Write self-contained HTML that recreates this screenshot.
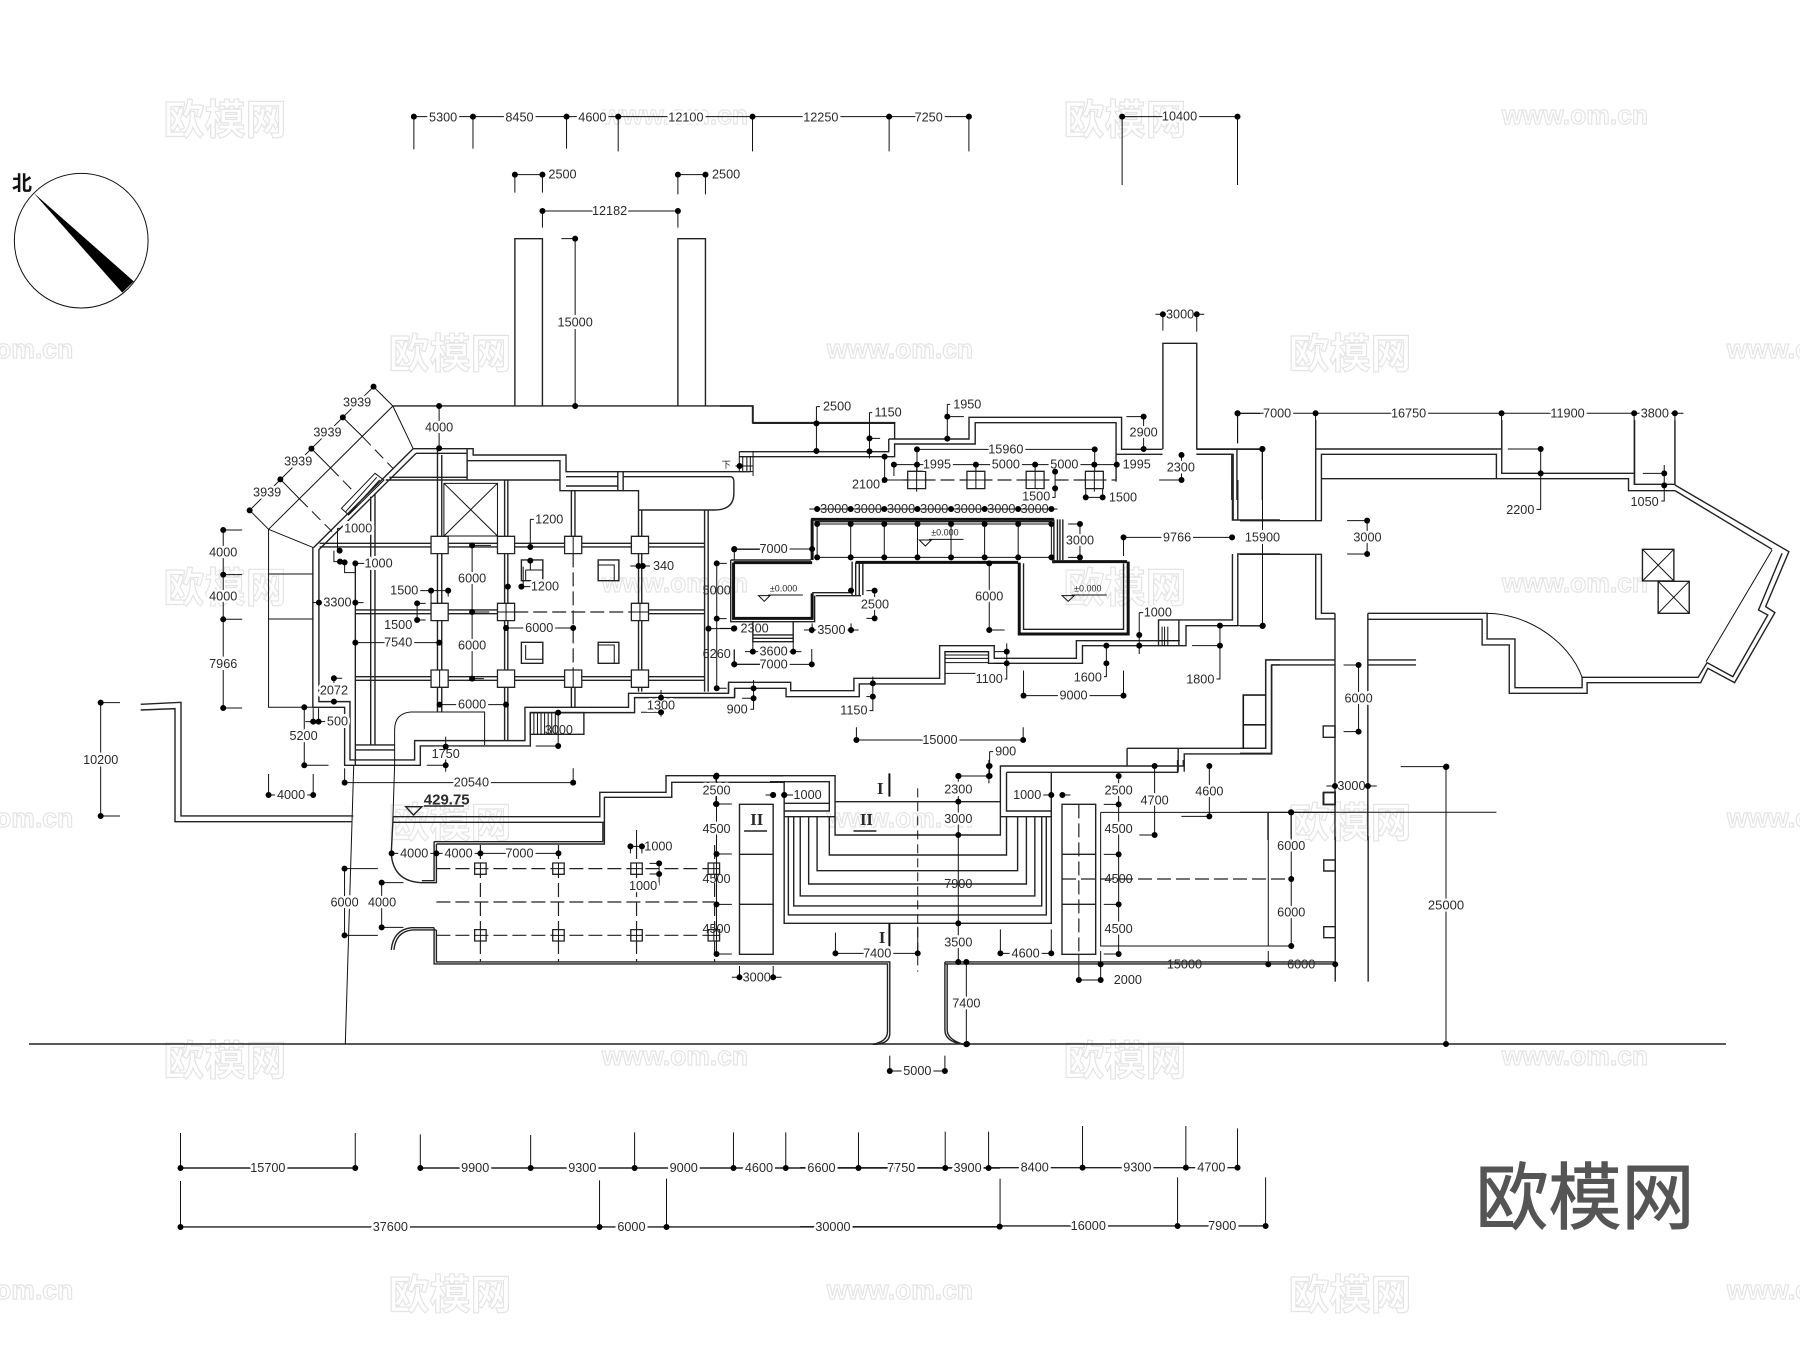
<!DOCTYPE html>
<html><head><meta charset="utf-8"><style>
html,body{margin:0;padding:0;background:#fff}
svg{display:block;font-family:"Liberation Sans","Noto Sans CJK SC",sans-serif}
path,rect,ellipse,polygon{vector-effect:non-scaling-stroke}
.l{fill:none;stroke:#111;stroke-width:1}
.w{fill:none;stroke:#222;stroke-width:1.4}
.th{fill:none;stroke:#111;stroke-width:3}
.da{fill:none;stroke:#222;stroke-width:1.2;stroke-dasharray:14 5}
.d{fill:none;stroke:#000;stroke-width:6;stroke-linecap:round}
.col{fill:#fff;stroke:#222;stroke-width:1.3}
.lab text{font-size:38px;fill:#2a2a2a;text-anchor:middle;dominant-baseline:central;transform-box:fill-box;transform-origin:center;paint-order:stroke;stroke:#fff;stroke-width:15px;stroke-linejoin:round}
.lab text.nh{stroke:none}
.lab text.sm{font-size:27px;stroke:none}
.lab text.rm{font-family:"Liberation Serif",serif;font-weight:bold;font-size:50px;stroke:none}
.a text{transform:scaleX(.581)}
.b text{transform:scaleX(.933)}
.c text{transform:scaleX(.871)}
.e text{transform:scaleX(.5226)}
.f text{transform:scaleX(.968)}
.wm text{fill:#fff;stroke:#e4e4e4;stroke-width:1.2;text-anchor:middle;dominant-baseline:central}
.wm .k{font-size:41px;font-family:"Noto Sans CJK SC",sans-serif;font-weight:bold}
.wm .u{font-size:26.5px;font-weight:bold}
</style></head><body>
<svg xmlns="http://www.w3.org/2000/svg" width="1800" height="1347" viewBox="0 0 1800 1347">
<rect width="1800" height="1347" fill="#fff"/>
<g class="wm">
<text class="k" x="225" y="116">欧模网</text><text class="k" x="1125" y="116">欧模网</text>
<text class="k" x="450" y="350">欧模网</text><text class="k" x="1350" y="350">欧模网</text>
<text class="k" x="225" y="584">欧模网</text><text class="k" x="1125" y="584">欧模网</text>
<text class="k" x="450" y="819">欧模网</text><text class="k" x="1350" y="819">欧模网</text>
<text class="k" x="225" y="1057">欧模网</text><text class="k" x="1125" y="1057">欧模网</text>
<text class="k" x="450" y="1291">欧模网</text><text class="k" x="1350" y="1291">欧模网</text>
<text class="u" x="675" y="115">www.om.cn</text><text class="u" x="1575" y="115">www.om.cn</text>
<text class="u" x="0" y="349">www.om.cn</text><text class="u" x="900" y="349">www.om.cn</text><text class="u" x="1800" y="349">www.om.cn</text>
<text class="u" x="675" y="583">www.om.cn</text><text class="u" x="1575" y="583">www.om.cn</text>
<text class="u" x="0" y="818">www.om.cn</text><text class="u" x="900" y="818">www.om.cn</text><text class="u" x="1800" y="818">www.om.cn</text>
<text class="u" x="675" y="1056">www.om.cn</text><text class="u" x="1575" y="1056">www.om.cn</text>
<text class="u" x="0" y="1290">www.om.cn</text><text class="u" x="900" y="1290">www.om.cn</text><text class="u" x="1800" y="1290">www.om.cn</text>
</g>

<!-- geometry layers -->
<g>
<path class="w" d="M29 1044H1726"/>
<path class="l" d="M1446 767V1044"/>
</g>

<g transform="matrix(.574 0 0 .3333 0 80)">
<path class="l" d="M721 110H1568M721 110V208M824 110V206M987 110V206M1077 110V214M1311 110V214M1549 110V214
M897 284H945M897 284V338M945 284V338M1181 284H1229M1181 284V343M1229 284V343M945 393H1181M945 393V443M1181 393V443
M1002 476V978M978 476H1002M765 978V1105"/>
<path class="w" d="M897 978V476H945V978M1181 978V476H1229V978M685 978H1311V1028H1560"/>
<ellipse class="l" cx="141.5" cy="482" rx="116.5" ry="202"/>
<polygon points="58,338 233,604 213,638" fill="#000"/>
</g>

<g transform="matrix(.574 0 0 .3333 900 80)">
<path class="l" d="M0 110H120M120 110V214M387 110H588M387 110V315M588 110V315M445 703H530M458 703V752M517 703V755
M587 1000H1365M588 1000V1090M724 1000V1107M1048 1000V1107M1279 1000V1215M1350 1000V1215M631 1107V1260"/>
<path class="w" d="M458 1107V790H517V1107M517 1107H631M517 1123H578V1260M587 1107V1260"/>
</g>

<g transform="matrix(.3444 0 0 .3333 720 390)">
<path class="w" d="M0 48H96V100H507V145M490 147H723V82H1166V178H1285M56 185H490V147M56 200H507V162H741V98H1150V275M1150 193H1285M1383 178H1568M1383 193H1490V390"/>
<path class="l" d="M56 185V245H96M96 185V258M66 200V245M78 200V245M88 200V245M45 228H96
M280 50H290M280 50V185M434 68H442M434 68V205M434 145H465M660 43H668M660 43V147M660 80H708M1180 80H1230V178M572 178H1088M572 178V245M1088 178V245
M505 224H1150M505 224V258M743 224V245M915 224V245M478 200V270M478 270H530M465 282L478 270M973 240V322H960M1062 322H1111M1062 295V322M1111 295V322
M1340 195V218M1340 250V270M1275 270H1340M1503 70V160M1503 70H1568"/>
<path class="da" d="M530 270H1150"/>
<rect class="col" x="545" y="244" width="52" height="52"/><rect class="col" x="717" y="244" width="52" height="52"/><rect class="col" x="889" y="244" width="52" height="52"/><rect class="col" x="1061" y="244" width="52" height="52"/>
<path class="l" d="M545 270H597M571 230V305M717 270H769M743 245V296M889 270H941M915 245V296M1061 270H1113M1087 245V305"/>
</g>

<g transform="matrix(.3571 0 0 .3333 200 400)">
<path class="l" d="M486 -40L139 331M486 -40L540 18M540 18L192 388M540 18L597 146M192 388L318 443M400 52L455 110M312 146L365 203M225 238L278 296M139 331L192 388M192 388V922H316M192 522H316M192 657H316
M490 220L396 325L416 345L515 240ZM495 232L408 335M503 240L416 343"/>
<path class="l" d="M455 110L540 205M365 203L435 280M278 296L370 395" stroke-dasharray="12 6"/>
<path class="w" d="M597 146L318 443M605 160L332 450
M597 146H765V165H1025V215H1540M605 160H748V182H1008V272H1228V330
M1025 230H1170M1025 258H1170M1170 215V272M1185 215V272M1185 230H1485Q1495 230 1495 245V280Q1495 330 1440 330H1230
M530 232H748M520 240H1008M748 146V238
M316 443V922H405V1096H617V1038H925V938H1217V893H1497V865M333 450V905H420V1080H601V1022H910V922H1200V880H1480V850
M435 490V1096M478 290V1035M490 280V1035M435 1035H545M435 1050H545
M665 146V935M677 165V935M853 240V1022M862 240V1022M1040 272V410M1050 272V410M1040 860V920M1050 860V920
M1228 330V875M1237 330V875M1413 330V875M1423 330V875
M335 430H1413M335 441H1413M435 630H835M435 641H835M1255 630H1413M1255 641H1413M435 830H1413M435 841H1413"/>
<path class="da" d="M880 636H1210M1045 460V810"/>
<rect class="l" x="683" y="250" width="150" height="158"/>
<path class="l" d="M683 250L833 408M833 250L683 408"/>
<rect class="col" x="647" y="409" width="48" height="52"/><rect class="col" x="833" y="409" width="48" height="52"/><rect class="col" x="1021" y="409" width="48" height="52"/><rect class="col" x="1208" y="409" width="48" height="52"/>
<rect class="col" x="647" y="610" width="48" height="52"/><rect class="col" x="833" y="610" width="48" height="52"/><rect class="col" x="1208" y="610" width="48" height="52"/>
<rect class="col" x="647" y="810" width="48" height="52"/><rect class="col" x="833" y="810" width="48" height="52"/><rect class="col" x="1021" y="810" width="48" height="52"/><rect class="col" x="1208" y="810" width="48" height="52"/>
<path class="l" d="M1045 409V461M857 610V662M833 636H881M1232 610V662M1208 636H1256M671 810V862M1045 810V862"/>
<rect class="w" x="900" y="480" width="60" height="62"/><path class="l" d="M912 510V540M912 510H960"/>
<rect class="w" x="1115" y="480" width="58" height="62"/><path class="l" d="M1115 495H1160V542"/>
<rect class="w" x="900" y="727" width="60" height="63"/><path class="l" d="M912 735V778H960"/>
<rect class="w" x="1115" y="727" width="58" height="63"/><path class="l" d="M1115 735H1160V790"/>
<path class="w" d="M925 938H1075V1003H925Z"/>
<path class="l" d="M935 938V1003M945 938V1003M955 938V1003M965 938V1003M975 938V1003M985 938V1003M995 938V1003"/>
<path class="l" d="M797 1035V936H590Q545 940 545 990V1096L540 1260"/>
<path class="l" d="M65 390V770M65 810V924M65 390H118M65 524H118M65 658H118M65 924H118
M292 922V990M292 1025V1096H360M317 925V965M332 925V965M295 965H355M375 835H398M375 835V855M192 1122V1185M317 1122V1185M192 1185H317
M385 385H395M385 385V452M375 452V485H390M405 487V518H435M435 490V518M435 490H460M315 608H458M435 728H670M615 572H695M647 572V610M695 572V590M608 610H632M608 660H632M608 610V660
M762 436V836M762 436H815M762 636H810M762 836H795M925 358H935M925 358V441M925 482V510M905 500V560H925M862 560H870M1205 498H1260M857 684H1045M671 914H857
M1291 870V950M1235 937H1291M1003 938V1038M940 1038H1003M688 1010V1115M635 1096H688M405 1105V1148H1045M1045 1105V1148
M1447 490V865M1447 490H1475M1447 656H1475M1447 865H1475M1424 686H1495M1496 448H1568M1496 793H1568M1496 748V793"/>
<path class="l" d="M1445 1130V1212"/>
</g>

<g transform="matrix(.3571 0 0 .3333 720 480)">
<path class="th" d="M255 118H935M258 118V240M38 248H258M38 248V415H258V340M838 248V462H1143V245M930 245H1140M380 247H835"/>
<path class="w" d="M265 125H928M935 118V250M945 118V240M952 118V240M960 118V240M370 345V245M380 345V247M390 345V250M400 345V250M258 338H370M268 347H395M30 240H255M30 240V425H265V347M850 250V448H1130V250"/>
<path class="l" d="M272 132V232M366 132V232M460 132V232M553 132V232M647 132V232M741 132V232M835 132V232M928 132V232M272 132H935M272 232H935M250 87H945"/>
<path class="w" d="M92 425V485H205V425M92 465H205M92 475H205"/>
<path class="l" d="M135 345H232M108 347H140L124 364ZM585 178H682M558 180H592L575 198ZM985 345H1083M958 347H992L975 364Z"/>
<path class="w" d="M24 637V607H198V632H375V595H615V497H768V535H998V482H1285M41 652V625H185V650H390V612H630V515H752V550H1015V497H1305V437H1450V222H1568M1435 0V120H1568M1450 0V120M1435 222V420H1228V497M1285 420V497"/>
<path class="l" d="M630 515H752M630 525H752M630 535H752M630 548H752M630 580H765M1238 440V497M1245 440V497M1254 440V497M1228 482H1288"/>
<path class="w" d="M1300 875V822H1545V555H1568M1283 875V805H1528V540H1568M1465 805V645H1528M1465 735H1528M1140 805V860M1140 805H1283"/>
<path class="l" d="M40 207H258M40 207V240M0 445H40M235 450H388M258 430V460M367 430V460M70 515H228M92 485V515M205 485V515M40 553H257M257 507V553M40 510V553M410 332H433M410 415H433M433 332V415
M975 132H1008M975 232H1008M1008 132V232M1130 172H1434M1130 172V228M754 248V450H797M1174 398H1185M1174 398V522
M803 490V597H795M768 515H803M768 550H803M1082 497V590H1075M1322 497H1400M1400 437V597H1390M1400 437H1520M850 572V647M1130 572V647M850 647H1130
M428 590V692H418M410 650H428M94 600V688H85M62 655H94M382 742V780M849 742V780M382 780H849M755 815H765M755 815V888M665 888H755"/>
</g>

<g transform="matrix(.3571 0 0 .3333 1240 420)">
<path class="w" d="M212 0V302M0 302H228V103H718V176M212 87H733V0M733 87V160H1105M1105 0V193H1218V0M228 176H1088V212H1218
M1218 195L1537 395L1472 560L1498 578L1385 788L1310 745L1290 788H972V820H754V675H678V598H358
M1218 212L1490 388M1518 400L1452 570L1478 585L1380 770L1308 728L1283 772H958V803H770V657H692V580H358
M0 403H228V580H266M212 403V597H266M266 580V1260M358 580V1260
M72 720V985H0M88 735V1000H0M72 720H266M88 735H266M358 720H493M358 735H493"/>
<path class="l" d="M1490 390L1305 725M692 580C800 580 920 660 958 772M10 826H72M10 914H72M10 826V985"/>
<rect class="w" x="1127" y="388" width="88" height="95"/><path class="l" d="M1127 388L1215 483M1215 388L1127 483"/>
<rect class="w" x="1171" y="484" width="87" height="96"/><path class="l" d="M1171 484L1258 580M1258 484L1171 580"/>
<rect class="w" x="233" y="918" width="33" height="34"/><rect class="w" x="233" y="1118" width="33" height="36"/>
<path class="l" d="M0 1177H718M78 1177V1260M143 1177V1255M750 87H842V268H830M1128 160H1188M1188 135V243H1180M300 302H356V402H300M63 87V618H0M290 735H332V935H290M242 1098H383M450 1040H578"/>
</g>

<g transform="matrix(.3827 0 0 .3333 330 760)">
<path class="w" d="M165 170H705V97H878V47H1185M165 187H717V112H893V67H1185M272 245H713V187M278 252H717V187
M272 245V362H240M278 252V368H240Q165 365 160 280M165 170L160 280M272 503H212Q165 510 160 570M278 510H215Q172 515 167 570M272 503V612H1150M278 510V606H1150"/>
<path class="l" d="M62 15L40 853"/>
<path class="da" d="M278 326H1015M278 426H1005M278 526H1015M393 255V605M597 255V605M801 255V605M1005 255V605"/>
<rect class="col" x="378" y="309" width="30" height="34"/><rect class="col" x="582" y="309" width="30" height="34"/><rect class="col" x="786" y="309" width="30" height="34"/><rect class="col" x="988" y="309" width="30" height="34"/>
<rect class="col" x="378" y="509" width="30" height="34"/><rect class="col" x="582" y="509" width="30" height="34"/><rect class="col" x="786" y="509" width="30" height="34"/><rect class="col" x="988" y="509" width="30" height="34"/>
<path class="l" d="M393 309V343M378 326H408M597 309V343M582 326H612M801 309V343M786 326H816M1003 309V343M988 326H1018M393 509V543M378 526H408M597 509V543M582 526H612M801 509V543M786 526H816M1003 509V543M988 526H1018"/>
<path class="l" d="M161 280H597M785 250V280M815 250V280M780 259H825M801 210V255M835 310H860V375H850M835 342H860M38 326V525M38 326H125M38 526H125M135 368V502M135 368H192M135 502H192
M1010 47V582M1010 132H1050M1010 282H1050M1010 433H1050M1010 582H1050M1070 618V652M1158 618V652M1050 652H1180M1138 105H1158M1187 105H1210"/>
<path class="w" d="M1070 133H1158V583H1070ZM1070 283H1158M1070 433H1158"/>
<path class="w" d="M1082 213H1142"/>
<path class="w" d="M245 138H350M198 140H240L218 165Z"/>
</g>

<g transform="matrix(.3827 0 0 .3333 770 760)">
<path class="w" d="M0 47H170V125H602V18H1080V0M0 65H155V153H37M618 37H1065V0M170 125V225H602V125M618 37V153H735M37 130H155M37 170H170M602 170H735M618 37H735V170
M155 170V285H618V170M123 170V332H647V170M101 170V372H670V170M79 170V408H692V170M62 170V438H710V170M48 170V465H722V170M37 65V490H735V37"/>
<path class="l" d="M386 85V635" stroke-dasharray="9 5"/>
<path class="th" d="M312 40V110M312 490V560" style="stroke-width:2"/>
<path class="w" d="M218 213H278"/>
<path class="l" d="M492 48H572M572 0V70M492 48V65M492 108V606M171 518V580M171 580H386M386 500V580M602 508V580M735 508V580M602 580H735M37 105H60M700 105H735M764 105H785
M513 606V853M313 887V933M457 887V933M313 933H457M807 583V660M864 573V660M807 660H864
M1362 157V558M872 133H911M872 283H911M872 433H911M872 582H911M911 48V582M1005 18V225H965M1148 18V169H1075M1302 573V613"/>
<path class="w" d="M0 606H313V820Q313 853 270 853M0 612H307V815Q307 845 268 853M457 606V810Q457 845 505 853M463 612V810Q463 838 505 853M457 606H1478M457 612H1478"/>
<path class="w" d="M763 133H851V583H763ZM763 283H851M763 433H851"/>
<path class="da" d="M763 357H1362M807 133V583"/>
<path class="l" d="M864 157H1477M864 157V558H1362M1302 157V558"/>
<path class="w" d="M1477 230V665M1563 230V665"/>
<rect class="w" x="1447" y="97" width="30" height="36"/><rect class="w" x="1447" y="300" width="30" height="33"/><rect class="w" x="1447" y="500" width="30" height="33"/>
</g>

<g transform="matrix(.3333 0 0 .3333 100 680)">
<path class="l" d="M0 68H60M0 408H60M2 68V408"/>
<path class="w" d="M122 73L243 67V408H760M122 90L225 86V425H757"/>
</g>

<g transform="matrix(.6378 0 0 .3333 0 1100)">
<path class="w" d="M283 204H557M659 204H1568M283 381H1568"/>
<path class="l" d="M283 204V99M557 204V99M659 204V103M832 204V105M995 204V97M1150 204V97M1232 204V97M1346 204V97M1482 204V95M1550 204V95M283 381V243M940 381V241M1045 381V236M1568 381V236"/>
</g>
<g transform="matrix(.6378 0 0 .3333 800 1040)">
<path class="w" d="M0 383H686M0 560H313V558H730"/>
<path class="l" d="M443 383V258M605 383V258M686 383V265M592 558V412M730 558V412"/>
</g>

<!-- labels -->
<text x="22" y="190" font-size="20" font-weight="bold" text-anchor="middle" fill="#111" font-family="'Noto Sans CJK SC',sans-serif">北</text>

<g class="lab a" transform="matrix(.574 0 0 .3333 0 80)">
<text x="772" y="112">5300</text><text x="905" y="112">8450</text><text x="1032" y="112">4600</text><text x="1195" y="112">12100</text><text x="1430" y="112">12250</text>
<text x="980" y="284">2500</text><text x="1265" y="284">2500</text><text x="1062" y="393">12182</text><text x="1002" y="728">15000</text><text x="765" y="1043">4000</text>
</g>
<g class="lab a" transform="matrix(.574 0 0 .3333 900 80)">
<text x="50" y="112">7250</text><text x="487" y="110">10400</text><text x="488" y="703">3000</text><text x="657" y="1000">7000</text><text x="886" y="1000">16750</text><text x="1163" y="1000">11900</text><text x="1315" y="1000">3800</text>
</g>
<g class="lab f" transform="matrix(.3444 0 0 .3333 720 390)">
<text class="nh" x="18" y="225" style="font-size:28px">下</text>
<text x="340" y="50">2500</text><text x="488" y="68">1150</text><text x="718" y="43">1950</text><text x="1230" y="128">2900</text><text x="830" y="178">15960</text>
<text x="630" y="224">1995</text><text x="830" y="224">5000</text><text x="1000" y="224">5000</text><text x="1210" y="224">1995</text><text x="424" y="284">2100</text><text x="918" y="320">1500</text><text x="1170" y="322">1500</text><text x="1338" y="233">2300</text>
</g>
<g class="lab b" transform="matrix(.3571 0 0 .3333 200 400)">
<text x="188" y="278">3939</text><text x="275" y="185">3939</text><text x="357" y="98">3939</text><text x="440" y="7">3939</text>
<text x="65" y="458">4000</text><text x="65" y="590">4000</text><text x="65" y="792">7966</text>
<text x="290" y="1008">5200</text><text x="385" y="965">500</text><text x="375" y="872">2072</text><text x="255" y="1185">4000</text>
<text x="443" y="385">1000</text><text x="500" y="490">1000</text><text x="385" y="608">3300</text><text x="555" y="728">7540</text><text x="572" y="572">1500</text><text x="555" y="675">1500</text>
<text x="762" y="535">6000</text><text x="762" y="737">6000</text><text x="978" y="358">1200</text><text x="966" y="560">1200</text><text x="1298" y="498">340</text><text x="950" y="684">6000</text><text x="762" y="914">6000</text>
<text x="1291" y="917">1300</text><text class="nh" x="1005" y="990">3000</text><text x="688" y="1062">1750</text><text x="760" y="1148">20540</text>
<text class="nh" x="1447" y="572">5000</text><text class="nh" x="1447" y="762">6260</text>
<text x="1445" y="1170">2500</text>
</g>
<g class="lab b" transform="matrix(.3571 0 0 .3333 720 480)">
<text class="nh" x="320" y="87">3000</text><text class="nh" x="414" y="87">3000</text><text class="nh" x="507" y="87">3000</text><text class="nh" x="600" y="87">3000</text><text class="nh" x="694" y="87">3000</text><text class="nh" x="788" y="87">3000</text><text class="nh" x="881" y="87">3000</text>
<text class="sm" x="178" y="325">±0.000</text><text class="sm" x="630" y="158">±0.000</text><text class="sm" x="1030" y="325">±0.000</text>
<text x="150" y="207">7000</text><text class="nh" x="97" y="445">2300</text><text x="312" y="450">3500</text><text x="150" y="515">3600</text><text x="150" y="553">7000</text><text x="434" y="374">2500</text>
<text x="1008" y="182">3000</text><text x="1280" y="172">9766</text><text x="754" y="349">6000</text><text x="1226" y="398">1000</text>
<text x="754" y="597">1100</text><text x="1030" y="592">1600</text><text x="1345" y="598">1800</text><text x="990" y="647">9000</text><text x="375" y="692">1150</text><text x="48" y="688">900</text><text x="616" y="780">15000</text><text x="800" y="815">900</text>
</g>
<g class="lab b" transform="matrix(.3571 0 0 .3333 1240 420)">
<text x="785" y="270">2200</text><text x="1133" y="246">1050</text><text x="357" y="352">3000</text><text x="63" y="352">15900</text><text x="332" y="836">6000</text><text x="312" y="1098">3000</text>
</g>
<g class="lab c" transform="matrix(.3827 0 0 .3333 330 760)">
<text x="305" y="120" style="font-weight:bold;font-size:45px;stroke:none">429.75</text>
<text x="220" y="280">4000</text><text x="336" y="280">4000</text><text x="495" y="280">7000</text><text x="858" y="259">1000</text><text x="818" y="378">1000</text>
<text x="38" y="427">6000</text><text x="136" y="427">4000</text>
<text class="rm" x="1115" y="178">II</text>
<text x="1010" y="92">2500</text><text x="1010" y="207">4500</text><text class="nh" x="1010" y="357">4500</text><text class="nh" x="1010" y="507">4500</text><text x="1115" y="652">3000</text><text x="1248" y="105">1000</text>
</g>
<g class="lab c" transform="matrix(.3827 0 0 .3333 770 760)">
<text class="rm" x="288" y="85">I</text><text class="rm" x="293" y="533">I</text><text class="rm" x="252" y="178">II</text>
<text x="492" y="88">2300</text><text x="492" y="177">3000</text><text class="nh" x="492" y="372">7900</text><text x="492" y="548">3500</text><text x="280" y="580">7400</text><text x="668" y="580">4600</text>
<text x="672" y="105">1000</text><text x="513" y="730">7400</text><text x="385" y="933">5000</text><text x="935" y="660">2000</text>
<text x="1362" y="258">6000</text><text x="1362" y="458">6000</text><text x="911" y="92">2500</text><text x="911" y="207">4500</text><text class="nh" x="911" y="357">4500</text><text x="911" y="507">4500</text>
<text x="1005" y="122">4700</text><text x="1148" y="95">4600</text><text class="nh" x="1083" y="613">15000</text><text class="nh" x="1388" y="613">6000</text>
</g>
<g class="lab" transform="matrix(.3333 0 0 .3333 100 680)">
<text x="2" y="240">10200</text>
</g>
<g class="lab"><text x="1446" y="905" style="font-size:13px;stroke-width:4px">25000</text></g>
<g class="lab e" transform="matrix(.6378 0 0 .3333 0 1100)">
<text x="420" y="204">15700</text><text x="745" y="204">9900</text><text x="913" y="204">9300</text><text x="1072" y="204">9000</text><text x="1190" y="204">4600</text><text x="1288" y="204">6600</text><text x="1413" y="204">7750</text><text x="1517" y="204">3900</text>
<text x="612" y="381">37600</text><text x="990" y="381">6000</text><text x="1306" y="381">30000</text>
</g>
<g class="lab e" transform="matrix(.6378 0 0 .3333 800 1040)">
<text x="368" y="383">8400</text><text x="529" y="383">9300</text><text x="645" y="383">4700</text><text x="452" y="558">16000</text><text x="662" y="558">7900</text>
</g>

<!-- dots -->
<path class="d" d="M1446 767h.01M1446 1044h.01M967 1044h.01"/>
<g transform="matrix(.574 0 0 .3333 0 80)"><path class="d" d="M721 110h.01M824 110h.01M987 110h.01M1077 110h.01M1311 110h.01M1549 110h.01M897 284h.01M945 284h.01M1181 284h.01M1229 284h.01M945 393h.01M1181 393h.01M1002 476h.01M1002 978h.01M765 978h.01M765 1105h.01"/></g>
<g transform="matrix(.574 0 0 .3333 900 80)"><path class="d" d="M120 110h.01M387 110h.01M588 110h.01M458 703h.01M517 703h.01M588 1000h.01M724 1000h.01M1048 1000h.01M1279 1000h.01M1350 1000h.01M631 1107h.01"/></g>
<g transform="matrix(.3444 0 0 .3333 720 390)"><path class="d" d="M57 228h.01M280 100h.01M280 183h.01M434 145h.01M434 184h.01M660 80h.01M660 146h.01M1230 80h.01M1230 177h.01M572 178h.01M1088 178h.01M505 224h.01M572 224h.01M743 224h.01M915 224h.01M1087 224h.01M1152 224h.01M478 200h.01M478 270h.01M973 245h.01M973 295h.01M1062 322h.01M1111 322h.01M1340 195h.01M1340 270h.01M1503 70h.01"/></g>
<g transform="matrix(.3571 0 0 .3333 200 400)"><path class="d" d="M486 -40h.01M400 52h.01M312 146h.01M225 238h.01M139 331h.01M65 390h.01M65 524h.01M65 658h.01M65 924h.01M292 922h.01M292 1096h.01M317 965h.01M332 965h.01M375 835h.01M375 905h.01M192 1185h.01M317 1185h.01M391 452h.01M392 485h.01M405 487h.01M435 490h.01M333 608h.01M435 608h.01M435 728h.01M670 728h.01M647 572h.01M695 572h.01M608 610h.01M608 660h.01M762 436h.01M762 636h.01M762 836h.01M925 441h.01M925 482h.01M900 560h.01M862 560h.01M1228 498h.01M1240 498h.01M857 684h.01M1045 684h.01M671 914h.01M857 914h.01M1291 893h.01M1291 937h.01M1003 938h.01M1003 1038h.01M688 1040h.01M688 1096h.01M405 1148h.01M1045 1148h.01M1447 490h.01M1447 656h.01M1447 865h.01M1424 686h.01M1495 686h.01M1496 448h.01M1496 793h.01M1445 1130h.01M1445 1212h.01"/></g>
<g transform="matrix(.3571 0 0 .3333 720 480)"><path class="d" d="M272 87h.01M366 87h.01M460 87h.01M553 87h.01M647 87h.01M741 87h.01M835 87h.01M928 87h.01M272 132h.01M366 132h.01M460 132h.01M553 132h.01M647 132h.01M741 132h.01M835 132h.01M928 132h.01M272 232h.01M366 232h.01M460 232h.01M553 232h.01M647 232h.01M741 232h.01M835 232h.01M928 232h.01M40 207h.01M258 207h.01M40 445h.01M257 450h.01M367 450h.01M92 515h.01M205 515h.01M40 553h.01M257 553h.01M433 332h.01M433 415h.01M367 332h.01M1008 132h.01M1008 232h.01M1130 172h.01M1434 172h.01M754 250h.01M754 450h.01M1174 465h.01M1174 497h.01M803 515h.01M803 550h.01M1082 497h.01M1082 550h.01M1400 437h.01M1400 497h.01M1520 437h.01M850 647h.01M1130 647h.01M428 610h.01M428 650h.01M94 625h.01M94 655h.01M382 780h.01M849 780h.01M755 858h.01M755 888h.01M668 888h.01"/></g>
<g transform="matrix(.3571 0 0 .3333 1240 420)"><path class="d" d="M842 87h.01M842 160h.01M1188 160h.01M1188 196h.01M356 302h.01M356 402h.01M63 87h.01M63 618h.01M332 735h.01M332 935h.01M266 1098h.01M358 1098h.01M578 1040h.01M143 1177h.01"/></g>
<g transform="matrix(.3827 0 0 .3333 330 760)"><path class="d" d="M161 280h.01M278 280h.01M393 280h.01M597 280h.01M785 259h.01M815 259h.01M860 310h.01M860 342h.01M38 326h.01M38 526h.01M135 368h.01M135 502h.01M1010 47h.01M1010 132h.01M1010 282h.01M1010 433h.01M1010 582h.01M1070 652h.01M1158 652h.01M1158 105h.01M1187 105h.01"/></g>
<g transform="matrix(.3827 0 0 .3333 770 760)"><path class="d" d="M492 48h.01M572 48h.01M572 18h.01M492 125h.01M492 225h.01M492 490h.01M492 606h.01M171 580h.01M386 580h.01M602 580h.01M735 580h.01M37 105h.01M8 105h.01M735 105h.01M764 105h.01M513 606h.01M513 853h.01M313 933h.01M457 933h.01M807 660h.01M864 660h.01M864 613h.01M1302 613h.01M1477 613h.01M1362 157h.01M1362 357h.01M1362 558h.01M911 48h.01M911 133h.01M911 283h.01M911 433h.01M911 582h.01M1005 18h.01M1005 225h.01M1148 18h.01M1148 169h.01"/></g>
<g transform="matrix(.3333 0 0 .3333 100 680)"><path class="d" d="M2 68h.01M2 408h.01"/></g>
<g transform="matrix(.6378 0 0 .3333 0 1100)"><path class="d" d="M283 204h.01M557 204h.01M659 204h.01M832 204h.01M995 204h.01M1150 204h.01M1232 204h.01M1346 204h.01M1482 204h.01M1550 204h.01M283 381h.01M940 381h.01M1045 381h.01"/></g>
<g transform="matrix(.6378 0 0 .3333 800 1040)"><path class="d" d="M443 383h.01M605 383h.01M686 383h.01M313 560h.01M592 558h.01M730 558h.01"/></g>

<text x="1585" y="1223" font-size="73" text-anchor="middle" fill="#555" stroke="#555" stroke-width="1" font-family="'Noto Sans CJK SC',sans-serif">欧模网</text>
</svg>
</body></html>
